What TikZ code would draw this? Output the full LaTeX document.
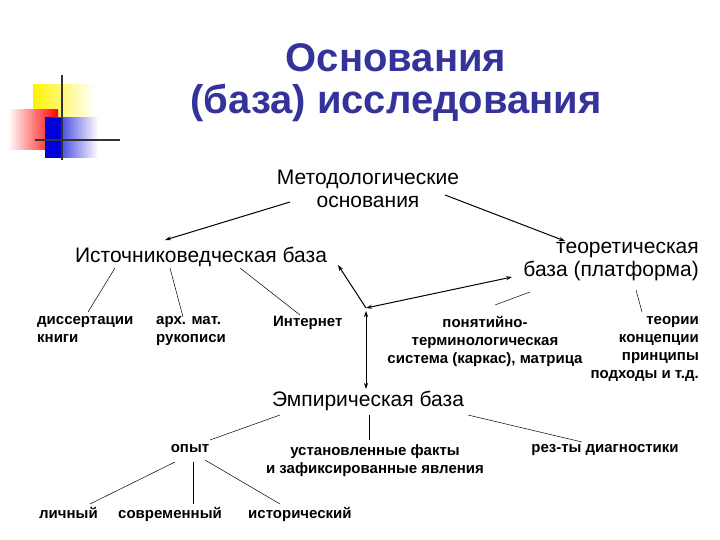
\documentclass[tikz,border=0pt]{standalone}
\usepackage{fontspec}
\setmainfont{Liberation Sans}
\usetikzlibrary{arrows.meta}
\definecolor{titleblue}{HTML}{333399}
\begin{document}
\begin{tikzpicture}[x=1pt,y=-1pt,
 big/.style={font=\fontsize{21}{23}\selectfont,align=center,inner sep=1pt},
 small/.style={font=\bfseries\fontsize{15}{18}\selectfont,align=left,inner sep=1pt},
 ln/.style={black,line width=0.5pt},
 ar/.style={black,line width=1pt,-{Stealth[length=6pt,width=4pt]}}]
\useasboundingbox (0,0) rectangle (720,540);
% decoration
\shade[left color=yellow!90!orange,right color=white] (33,85) rectangle (95,120);
\shade[left color=white,right color=red] (8,110) rectangle (58,150);
\shade[left color=blue!85!black,right color=white] (45,118) rectangle (98,158);
\fill[blue!85!black] (45,118) rectangle (62,158);
\draw[line width=1.5pt,black!80] (62,75) -- (62,160);
\draw[line width=1.5pt,black!80] (35,140) -- (120,140);
% title
\node[font=\bfseries\fontsize{40}{42}\selectfont,text=titleblue,align=center] (t) at (396,83) {Основания\\(база) исследования};
\node[big] (m) at (368,189) {Методологические\\основания};
\node[big] (ist) at (201,257) {Источниковедческая база};
\node[big,align=right,anchor=east] (teo) at (700,262) {теоретическая\\база (платформа)};
\node[big] (emp) at (368,401) {Эмпирическая база};
\node[small,anchor=north west] (dis) at (36,315) {диссертации\\книги};
\node[small,anchor=north west] (arx) at (155,315) {арх. мат.\\рукописи};
\node[small,anchor=north west] (int) at (272,315) {Интернет};
\node[small,align=center,anchor=north] (pon) at (485,315) {понятийно-\\терминологическая\\система (каркас), матрица};
\node[small,align=right,anchor=north east] (teor) at (700,315) {теории\\концепции\\принципы\\подходы и т.д.};
\node[small,anchor=north] (op) at (190,443) {опыт};
\node[small,align=center,anchor=north] (ust) at (375,443) {установленные факты\\и зафиксированные явления};
\node[small,anchor=north] (rez) at (605,443) {рез-ты диагностики};
\node[small,anchor=north west] (l1) at (38,506) {личный};
\node[small,anchor=north west] (l2) at (117,506) {современный};
\node[small,anchor=north west] (l3) at (247,506) {исторический};
\coordinate (c) at (366,308);
\coordinate (e) at (366,389);
% arrows
\draw[ar] (290,202) -- (165,240);
\draw[ar] (445,195) -- (565,241);
\draw[ar] (c) -- (338,265);
\draw[ar,{Stealth[length=6pt,width=4pt]}-{Stealth[length=6pt,width=4pt]}] (c) -- (512,277);
\draw[ar,line width=0.7pt,{Stealth[length=6pt,width=4pt]}-{Stealth[length=6pt,width=4pt]}] (366,311) -- (e);
% lines
\draw[ln] (115,268) -- (88,312);
\draw[ln] (170,268) -- (183,317);
\draw[ln] (240,268) -- (300,315);
\draw[ln] (530,292) -- (495,305);
\draw[ln] (636,290) -- (642,312);
\draw[ln] (280,415) -- (210,440);
\draw[ln] (369,415) -- (369,440);
\draw[ln] (468,415) -- (582,442);
\draw[ln] (175,462) -- (90,504);
\draw[ln] (193,462) -- (193,504);
\draw[ln] (205,460) -- (280,504);
\end{tikzpicture}
\end{document}
